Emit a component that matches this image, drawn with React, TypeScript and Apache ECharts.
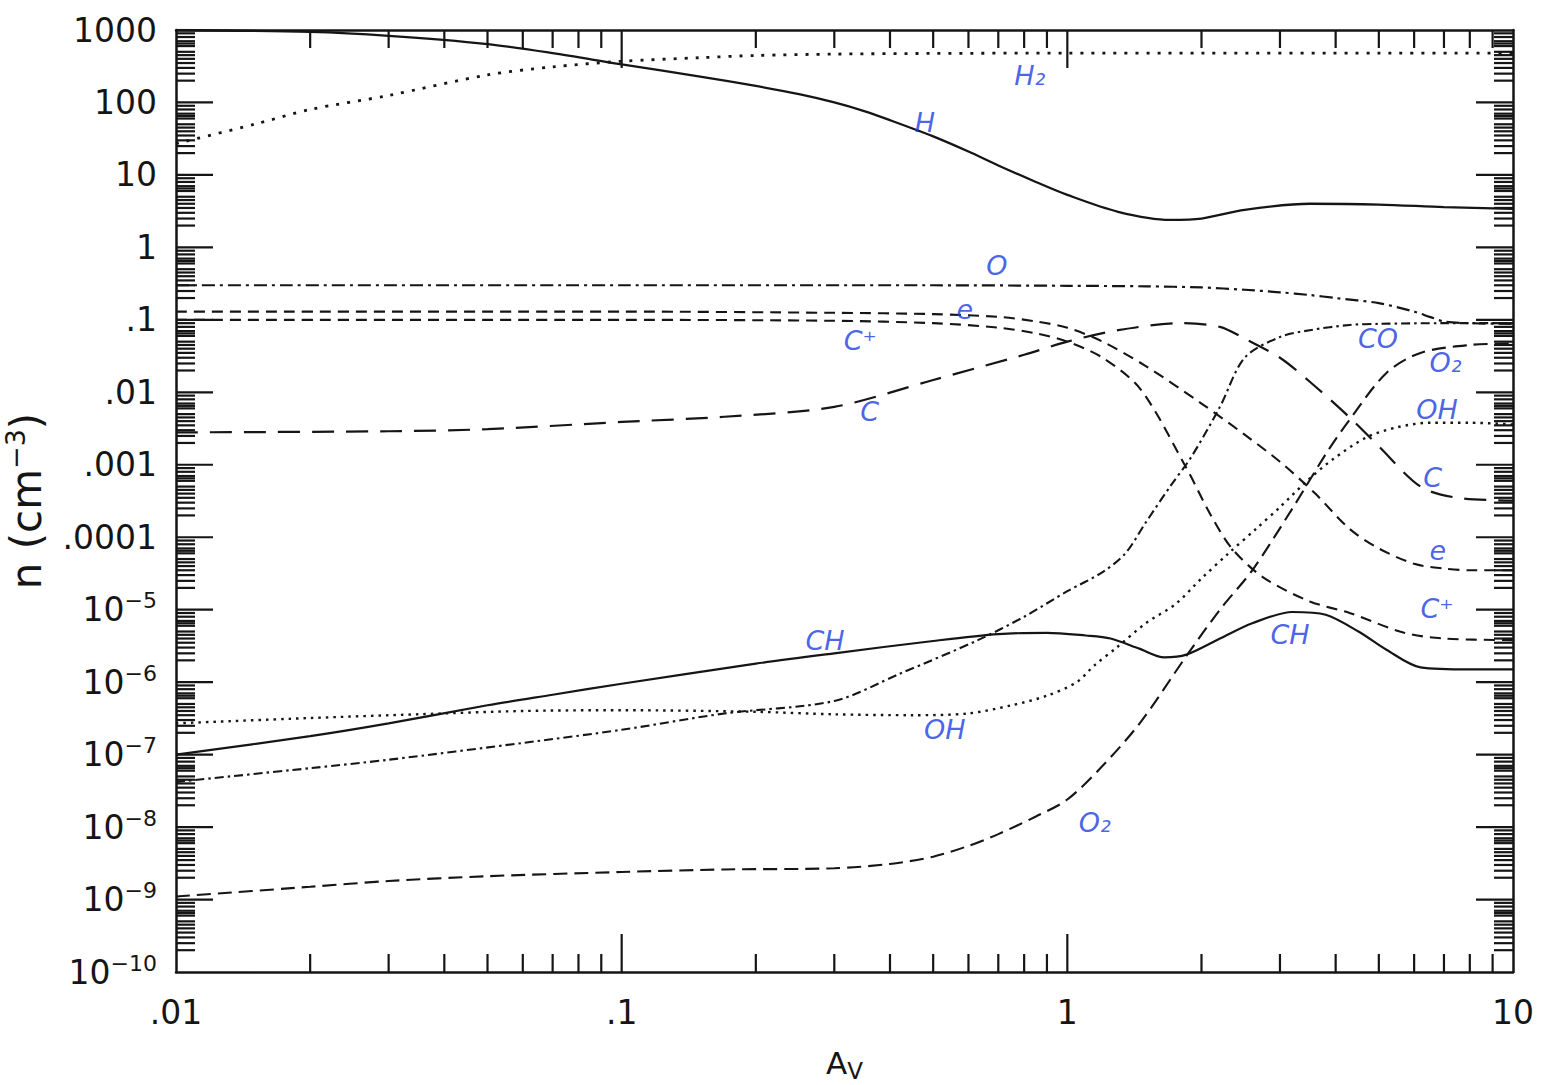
import React, { useEffect, useRef } from "react";
import * as echarts from "echarts";

// ---- axis ticks / labels ----
const xTickValues = [0.01, 0.1, 1, 10];
const xTickLabels = [".01", ".1", "1", "10"];
const yTickValues = [1e-10, 1e-9, 1e-8, 1e-7, 1e-6, 1e-5, 1e-4, 1e-3, 1e-2, 1e-1, 1, 10, 100, 1000];
const yTickLabels = [
  "10{sup|−10}", "10{sup|−9}", "10{sup|−8}", "10{sup|−7}", "10{sup|−6}", "10{sup|−5}",
  ".0001", ".001", ".01", ".1", "1", "10", "100", "1000",
];
const yMinorMultipliers = [2, 2.5, 3, 3.5, 4, 4.5, 5, 6, 6.5, 7, 8, 9];
const xMinorMultipliers = [2, 3, 4, 5, 6, 7, 8, 9];

// ---- species abundances n (cm^-3) vs A_V ----
const hAv = [0.01, 0.02, 0.03, 0.05, 0.07, 0.1, 0.15, 0.2, 0.25, 0.3, 0.35, 0.4, 0.5, 0.6, 0.7, 0.85, 1.0, 1.3, 1.7, 2.0, 2.5, 3.5, 5, 7, 10];
const hN = [1000, 940, 830, 640, 480, 335, 228, 169, 130, 100, 76, 57, 34, 21, 13.5, 8, 5.3, 3.1, 2.4, 2.5, 3.3, 4.0, 3.9, 3.6, 3.4];

const h2Av = [0.01, 0.015, 0.02, 0.03, 0.05, 0.07, 0.1, 0.15, 0.2, 0.3, 0.5, 1, 2, 5, 10];
const h2N = [27, 50, 80, 125, 240, 310, 370, 415, 445, 465, 475, 480, 480, 480, 480];

const oAv = [0.01, 0.1, 0.5, 1, 1.5, 2, 2.5, 3, 3.5, 4, 5, 6, 6.5, 7, 8, 10];
const oN = [0.3, 0.3, 0.3, 0.295, 0.29, 0.28, 0.26, 0.24, 0.22, 0.2, 0.17, 0.13, 0.11, 0.095, 0.09, 0.088];

const eAv = [0.01, 0.1, 0.3, 0.5, 0.7, 0.85, 1.0, 1.2, 1.5, 2.0, 2.5, 3.0, 3.6, 4.3, 5.0, 6.0, 7.0, 8.0, 10];
const eN = [0.13, 0.13, 0.125, 0.12, 0.11, 0.095, 0.078, 0.05, 0.023, 0.007, 0.0026, 0.0011, 4e-4, 1.3e-4, 7e-5, 4.3e-5, 3.7e-5, 3.5e-5, 3.5e-5];

const cpAv = [0.01, 0.1, 0.3, 0.5, 0.7, 0.85, 1.0, 1.2, 1.46, 1.85, 2.1, 2.34, 2.75, 3.5, 4.3, 5.7, 7, 10];
const cpN = [0.1, 0.1, 0.097, 0.09, 0.078, 0.065, 0.05, 0.03, 0.011, 9e-4, 2e-4, 7e-5, 2.8e-5, 1.3e-5, 9e-6, 4.8e-6, 4e-6, 3.8e-6];

const cAv = [0.01, 0.03, 0.05, 0.1, 0.17, 0.3, 0.5, 0.8, 1.0, 1.3, 1.8, 2.2, 2.5, 3.0, 3.5, 4.3, 5.0, 6.2, 7.5, 10];
const cN = [0.0028, 0.0029, 0.0031, 0.0039, 0.0046, 0.0063, 0.0148, 0.033, 0.05, 0.072, 0.09, 0.08, 0.055, 0.03, 0.014, 0.0045, 0.0018, 5e-4, 3.5e-4, 3.2e-4];

const coAv = [0.01, 0.02, 0.03, 0.06, 0.1, 0.17, 0.3, 0.42, 0.63, 0.8, 1.0, 1.2, 1.35, 1.5, 1.7, 1.9, 2.2, 2.5, 3.0, 3.5, 4.3, 5.0, 7.0, 10];
const coN = [4.2e-8, 6.5e-8, 8.5e-8, 1.45e-7, 2.2e-7, 3.7e-7, 5.5e-7, 1.3e-6, 3.8e-6, 8e-6, 1.8e-5, 3.3e-5, 6e-5, 1.6e-4, 5e-4, 1.3e-3, 6.3e-3, 0.03, 0.058, 0.072, 0.085, 0.088, 0.09, 0.09];

const chAv = [0.01, 0.02, 0.03, 0.05, 0.07, 0.1, 0.2, 0.3, 0.5, 0.7, 0.9, 1.1, 1.25, 1.45, 1.65, 1.85, 2.2, 2.6, 3.2, 3.8, 4.5, 5.2, 6.2, 8, 10];
const chN = [1e-7, 1.8e-7, 2.7e-7, 4.8e-7, 6.7e-7, 9.5e-7, 1.8e-6, 2.5e-6, 3.7e-6, 4.6e-6, 4.8e-6, 4.4e-6, 4.0e-6, 2.9e-6, 2.2e-6, 2.4e-6, 4e-6, 6.5e-6, 9.3e-6, 8.5e-6, 5e-6, 2.8e-6, 1.6e-6, 1.5e-6, 1.5e-6];

const ohAv = [0.01, 0.02, 0.035, 0.06, 0.1, 0.2, 0.3, 0.45, 0.6, 0.75, 0.9, 1.05, 1.15, 1.29, 1.5, 1.75, 2.0, 2.3, 2.65, 3.0, 3.45, 3.95, 4.7, 5.5, 6.5, 8, 10];
const ohN = [2.7e-7, 3.2e-7, 3.6e-7, 4e-7, 4.1e-7, 3.9e-7, 3.6e-7, 3.5e-7, 3.7e-7, 4.8e-7, 6.5e-7, 1e-6, 1.7e-6, 3e-6, 6.5e-6, 1.2e-5, 2.7e-5, 6e-5, 1.3e-4, 2.6e-4, 6e-4, 1.2e-3, 2.4e-3, 3.3e-3, 3.8e-3, 3.8e-3, 3.6e-3];

const o2Av = [0.01, 0.02, 0.03, 0.05, 0.1, 0.17, 0.3, 0.4, 0.5, 0.6, 0.7, 0.85, 1.0, 1.2, 1.46, 1.85, 2.2, 2.6, 3.2, 3.8, 4.3, 5.2, 6.2, 8, 10];
const o2N = [1.1e-9, 1.5e-9, 1.8e-9, 2.1e-9, 2.4e-9, 2.6e-9, 2.7e-9, 3.1e-9, 3.9e-9, 5.5e-9, 8e-9, 1.4e-8, 2.4e-8, 7e-8, 2.8e-7, 2.3e-6, 1e-5, 3.5e-5, 2.5e-4, 1.4e-3, 4.2e-3, 0.0185, 0.035, 0.045, 0.047];

// ---- hand-written species labels (A_V, n, text) ----
const labelAv = [0.824, 0.479, 0.695, 0.589, 0.343, 0.36, 0.286, 0.531, 1.153, 4.98, 7.06, 6.75, 6.6, 6.78, 6.75, 3.16];
const labelN = [239, 53.7, 0.571, 0.137, 0.0527, 0.0054, 3.8e-6, 2.2e-7, 1.17e-8, 0.056, 0.026, 0.0057, 6.6e-4, 6.6e-5, 1.05e-5, 4.5e-6];
const labelText = ["H₂", "H", "O", "e", "C⁺", "C", "CH", "OH", "O₂", "CO", "O₂", "OH", "C", "e", "C⁺", "CH"];

const L = (v: number) => Math.log10(v);
const pts = (av: number[], n: number[]) => av.map((a, i) => [L(a), L(n[i])]);

const FONT = "DejaVu Sans";
const INK = "#151515";

function findLabel(v: number, values: number[], labels: string[]) {
  for (let i = 0; i < values.length; i++) {
    if (Math.abs(L(values[i]) - v) < 1e-6) return labels[i];
  }
  return "";
}

export default function App() {
  const ref = useRef<HTMLDivElement>(null);

  useEffect(() => {
    document.body.style.margin = "0";
    if (!ref.current) return;
    const chart = echarts.init(ref.current, null, { renderer: "svg" });

    const tickData: number[][] = [];
    for (let e = -10; e < 3; e++) {
      for (const m of yMinorMultipliers) {
        const v = e + L(m);
        tickData.push([-2, v, 0, 19], [1, v, 1, 19]);
      }
    }
    for (let e = -9; e < 3; e++) tickData.push([-2, e, 0, 37], [1, e, 1, 37]);
    for (let e = -2; e < 1; e++) {
      for (const m of xMinorMultipliers) {
        const v = e + L(m);
        tickData.push([v, -10, 2, 18], [v, 3, 3, 18]);
      }
    }
    for (let e = -1; e < 1; e++) tickData.push([e, -10, 2, 38], [e, 3, 3, 38]);

    const line = (name: string, av: number[], n: number[], dash: number[] | "solid", width = 2) => ({
      name,
      type: "line",
      data: pts(av, n),
      showSymbol: false,
      symbol: "none",
      smooth: 0.3,
      z: 3,
      lineStyle: { color: INK, width, type: dash },
    });

    const option: any = {
      animation: false,
      backgroundColor: "#ffffff",
      grid: { left: 176, right: 38, top: 30, bottom: 113, containLabel: false, outerBoundsMode: "none" },
      xAxis: [
        {
          type: "value",
          min: -2,
          max: 1,
          interval: 1,
          position: "bottom",
          axisLine: { show: true, onZero: false, lineStyle: { color: INK, width: 2.5 } },
          axisTick: { show: false },
          splitLine: { show: false },
          axisLabel: {
            margin: 24,
            fontSize: 33,
            fontFamily: FONT,
            color: INK,
            formatter: (v: number) => findLabel(v, xTickValues, xTickLabels),
          },
          name: "A{sub|V}",
          nameLocation: "middle",
          nameGap: 72,
          nameTextStyle: {
            fontSize: 31,
            fontFamily: FONT,
            color: INK,
            lineHeight: 38,
            rich: { sub: { fontSize: 23, fontFamily: FONT, color: INK, verticalAlign: "bottom", lineHeight: 8 } },
          },
        },
        {
          type: "value",
          min: -2,
          max: 1,
          interval: 1,
          position: "top",
          axisLine: { show: true, onZero: false, lineStyle: { color: INK, width: 2.5 } },
          axisTick: { show: false },
          splitLine: { show: false },
          axisLabel: { show: false },
        },
      ],
      yAxis: [
        {
          type: "value",
          min: -10,
          max: 3,
          interval: 1,
          position: "left",
          axisLine: { show: true, onZero: false, lineStyle: { color: INK, width: 2.5 } },
          axisTick: { show: false },
          splitLine: { show: false },
          axisLabel: {
            margin: 19,
            fontSize: 33,
            fontFamily: FONT,
            color: INK,
            lineHeight: 40,
            formatter: (v: number) => findLabel(v, yTickValues, yTickLabels),
            rich: {
              sup: { fontSize: 22, fontFamily: FONT, color: INK, verticalAlign: "top", lineHeight: 14 },
            },
          },
          name: "n (cm{sup|−3})",
          nameLocation: "middle",
          nameGap: 106,
          nameTextStyle: {
            fontSize: 42,
            fontFamily: FONT,
            color: INK,
            lineHeight: 50,
            rich: { sup: { fontSize: 27, fontFamily: FONT, color: INK, verticalAlign: "top", lineHeight: 16 } },
          },
        },
        {
          type: "value",
          min: -10,
          max: 3,
          interval: 1,
          position: "right",
          axisLine: { show: true, onZero: false, lineStyle: { color: INK, width: 2.5 } },
          axisTick: { show: false },
          splitLine: { show: false },
          axisLabel: { show: false },
        },
      ],
      series: [
        line("H", hAv, hN, "solid", 2.3),
        line("H2", h2Av, h2N, [3, 8], 2.8),
        line("O", oAv, oN, [13, 5, 3, 5], 2.2),
        line("e", eAv, eN, [11, 7], 2.1),
        line("C+", cpAv, cpN, [11, 7], 2.1),
        line("C", cAv, cN, [22, 12], 2.2),
        line("CO", coAv, coN, [9, 4, 2.5, 4], 2.1),
        line("CH", chAv, chN, "solid", 2.2),
        line("OH", ohAv, ohN, [2.5, 5], 2.4),
        line("O2", o2Av, o2N, [14, 7], 2.1),
        {
          name: "ticks",
          type: "custom",
          xAxisIndex: 0,
          yAxisIndex: 0,
          silent: true,
          clip: false,
          z: 5,
          data: tickData,
          renderItem: (_p: any, api: any) => {
            const p = api.coord([api.value(0), api.value(1)]);
            const kind = api.value(2);
            const len = api.value(3);
            let x2 = p[0];
            let y2 = p[1];
            if (kind === 0) x2 += len;
            else if (kind === 1) x2 -= len;
            else if (kind === 2) y2 -= len;
            else y2 += len;
            return {
              type: "line",
              shape: { x1: p[0], y1: p[1], x2, y2 },
              style: { stroke: INK, lineWidth: 2.2 },
            };
          },
        },
        {
          name: "labels",
          type: "scatter",
          silent: true,
          symbolSize: 0,
          z: 6,
          data: labelText.map((t, i) => ({ value: [L(labelAv[i]), L(labelN[i])], name: t })),
          label: {
            show: true,
            position: "inside",
            formatter: "{b}",
            color: "#1a3ce0",
            fontSize: 27,
            fontStyle: "italic",
            fontFamily: FONT,
          },
        },
      ],
    };

    chart.setOption(option);
    return () => chart.dispose();
  }, []);

  return <div ref={ref} style={{ width: 1551, height: 1085, background: "#fff" }} />;
}
